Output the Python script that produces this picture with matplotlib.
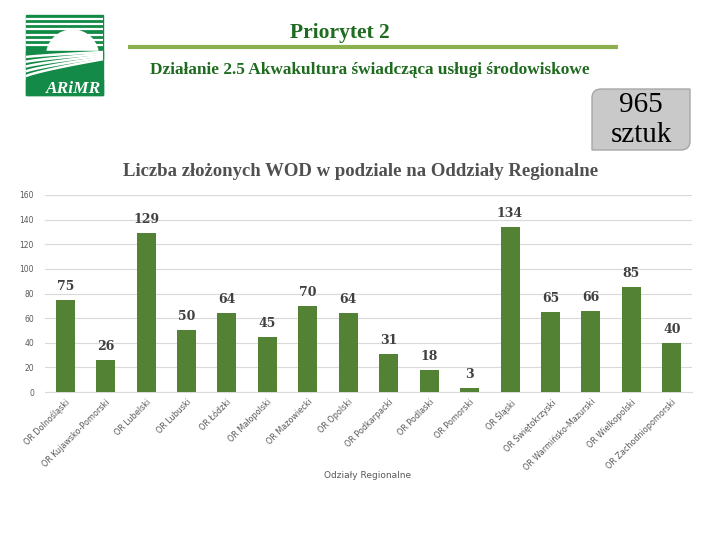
import numpy as np
import matplotlib
matplotlib.use("Agg")
import matplotlib.pyplot as plt
from matplotlib.patches import Rectangle, Wedge, PathPatch
from matplotlib.path import Path

categories = ["OR Dolnośląski", "OR Kujawsko-Pomorski", "OR Lubelski", "OR Lubuski",
              "OR Łódzki", "OR Małopolski", "OR Mazowiecki", "OR Opolski",
              "OR Podkarpacki", "OR Podlaski", "OR Pomorski", "OR Śląski",
              "OR Świętokrzyski", "OR Warmińsko-Mazurski", "OR Wielkopolski",
              "OR Zachodniopomorski"]
values = [75, 26, 129, 50, 64, 45, 70, 64, 31, 18, 3, 134, 65, 66, 85, 40]
yticks = [0, 20, 40, 60, 80, 100, 120, 140, 160]

header = "Priorytet 2"
subheader = "Działanie 2.5 Akwakultura świadcząca usługi środowiskowe"
chart_title = "Liczba złożonych WOD w podziale na Oddziały Regionalne"
xlabel = "Odziały Regionalne"
total_text = "965\nsztuk"

W, H = 720, 540
fig = plt.figure(figsize=(7.2, 5.4), dpi=100)

# main chart
ax = fig.add_axes([45 / W, 1 - 392 / H, (692 - 45) / W, (392 - 195) / H])
x = np.arange(len(categories))
ax.bar(x, values, width=0.47, color="#548235", zorder=3)
ax.set_xlim(-0.5, len(categories) - 0.5)
ax.set_ylim(0, 160)
ax.set_yticks(yticks)
ax.yaxis.grid(True, color="#d9d9d9", lw=0.8, zorder=0)
for s in ["top", "right", "left"]:
    ax.spines[s].set_visible(False)
ax.spines["bottom"].set_color("#d9d9d9")
ax.tick_params(axis="y", length=0, labelsize=5.5, labelcolor="#595959", pad=8)
ax.tick_params(axis="x", length=0, pad=4)
ax.set_xticks(x)
ax.set_xticklabels(categories, rotation=45, ha="right", va="top",
                   rotation_mode="anchor", fontsize=5.8, color="#595959")
for xi, v in zip(x, values):
    ax.annotate(str(v), (xi, v), xytext=(0, 5), textcoords="offset points",
                ha="center", va="bottom", fontsize=9, fontweight="bold",
                family="DejaVu Serif", color="#404040")

# overlay for decorations
ov = fig.add_axes([0, 0, 1, 1], zorder=-1)
ov.set_xlim(0, W)
ov.set_ylim(H, 0)
ov.axis("off")

# logo
g = "#138a47"
ov.add_patch(Rectangle((26, 15), 77, 80, color=g, zorder=1))
for yy in np.arange(19, 48, 5.2):
    ov.plot([26, 103], [yy, yy], color="white", lw=1.6, solid_capstyle="butt", zorder=2)
ov.add_patch(Wedge((72.5, 56), 26, 180, 360, color="white", zorder=3))
ov.add_patch(Rectangle((26, 51), 77, 8, color=g, zorder=3.5))
t = np.linspace(0, 1, 60)
for k in range(5):
    xs = 26 + 77 * t
    ys = 57 + k * 4.8 - (5 + k * 3.0) * t ** 0.8
    ov.plot(xs, ys, color="white", lw=1.8, zorder=4, solid_capstyle="butt")
ov.add_patch(Rectangle((26, 80), 77, 15, color=g, zorder=4.5))
ov.text(74, 89, "ARiMR", color="white", fontsize=12.5, style="italic", fontweight="bold",
        family="Liberation Serif", ha="center", va="center", zorder=5)

# header
ov.text(340, 33, header, color="#1f6b1f", fontsize=15.5, fontweight="bold",
        family="Liberation Serif", ha="center", va="center")
ov.plot([128, 618], [47, 47], color="#8db04e", lw=3, solid_capstyle="butt")
ov.text(370, 70, subheader, color="#1f6b1f", fontsize=12.4, fontweight="bold",
        family="Liberation Serif", ha="center", va="center")

# total box with rounded top-left and bottom-right corners
x0, x1, y0, y1, r = 592, 690, 89, 150, 9
verts = [(x0, y0 + r), (x0, y0), (x0 + r, y0), (x1, y0), (x1, y1 - r),
         (x1, y1), (x1 - r, y1), (x0, y1), (x0, y0 + r)]
codes = [Path.MOVETO, Path.CURVE3, Path.CURVE3, Path.LINETO, Path.LINETO,
         Path.CURVE3, Path.CURVE3, Path.LINETO, Path.CLOSEPOLY]
ov.add_patch(PathPatch(Path(verts, codes), facecolor="#c9c9c9", edgecolor="#a6a6a6", lw=1))
ov.text(641, 120.5, total_text, color="black", fontsize=21, family="Liberation Serif",
        ha="center", va="center", linespacing=1.2)

# chart title
ov.text(361, 172, chart_title, color="#505050", fontsize=13.5, fontweight="bold",
        family="Liberation Serif", ha="center", va="center")
ov.text(368, 476, xlabel, color="#595959", fontsize=6.5, ha="center", va="center")

fig.savefig("out.png", dpi=100)
